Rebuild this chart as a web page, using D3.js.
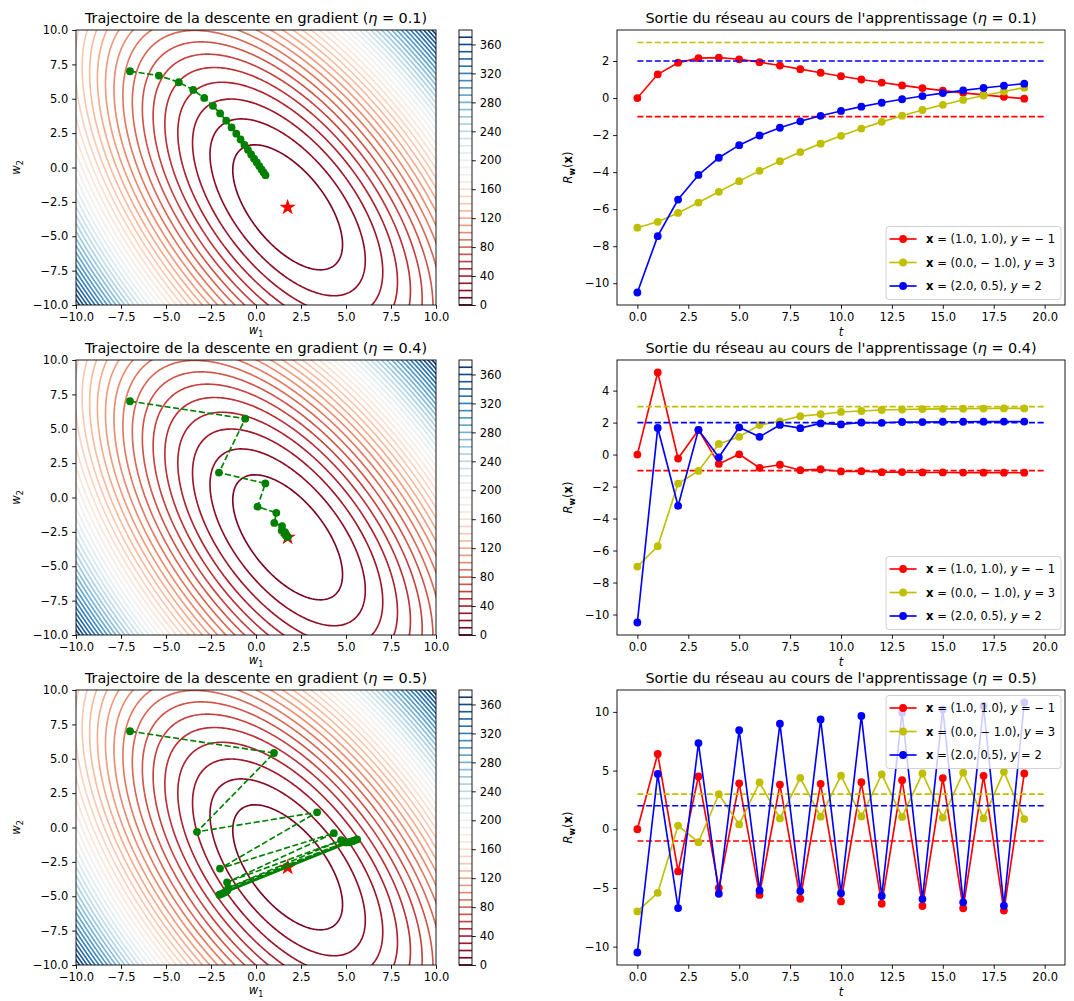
<!DOCTYPE html>
<html>
<head>
<meta charset="utf-8">
<script src="https://cdn.jsdelivr.net/npm/d3@7"></script>
<style>
  body { margin: 0; background: #fff; }
  svg text { font-family: "DejaVu Sans", sans-serif; fill: #000; }
</style>
</head>
<body>
<svg id="fig" width="1074" height="1001"></svg>
<script>
// ---- data ----
// training examples x, target y
const exInputs = [[1.0, 1.0], [0.0, -1.0], [2.0, 0.5]];
const exTargets = [-1, 3, 2];
const exColors = ['#ff0000', '#bfbf00', '#0000ff'];
const exLabels = [
  [{t: 'x', b: 1}, {t: ' = (1.0, 1.0), '}, {t: 'y', i: 1}, {t: ' = − 1'}],
  [{t: 'x', b: 1}, {t: ' = (0.0, − 1.0), '}, {t: 'y', i: 1}, {t: ' = 3'}],
  [{t: 'x', b: 1}, {t: ' = (2.0, 0.5), '}, {t: 'y', i: 1}, {t: ' = 2'}]
];

const etas = ['0.1', '0.4', '0.5'];
const wStar = [1.759, -2.897];
const steps = [0, 1, 2, 3, 4, 5, 6, 7, 8, 9, 10, 11, 12, 13, 14, 15, 16, 17, 18, 19];

// contour levels and colorbar ticks
const levels = [10, 20, 30, 40, 50, 60, 70, 80, 90, 100, 110, 120, 130, 140, 150, 160, 170, 180, 190,
  200, 210, 220, 230, 240, 250, 260, 270, 280, 290, 300, 310, 320, 330, 340, 350, 360, 370];
const cbTicks = [0, 40, 80, 120, 160, 200, 240, 280, 320, 360];
const wTicks = [-10, -7.5, -5, -2.5, 0, 2.5, 5, 7.5, 10];
const tTicks = [0, 2.5, 5, 7.5, 10, 12.5, 15, 17.5, 20];
const outTicks = [
  [-10, -8, -6, -4, -2, 0, 2],
  [-10, -8, -6, -4, -2, 0, 2, 4],
  [-10, -5, 0, 5, 10]
];

// weight trajectories (eta = 0.1, 0.4, 0.5)
const traj01W1 = [-7.0, -5.400, -4.291, -3.488, -2.877, -2.393, -1.994, -1.653, -1.357, -1.094, -0.857, -0.643, -0.448, -0.270, -0.107, 0.043, 0.180, 0.306, 0.423, 0.529];
const traj01W2 = [7.0, 6.683, 6.201, 5.643, 5.061, 4.486, 3.932, 3.408, 2.917, 2.461, 2.037, 1.646, 1.285, 0.952, 0.645, 0.363, 0.102, -0.137, -0.357, -0.560];
const traj04W1 = [-7.0, -0.600, -2.058, 0.519, 0.082, 1.129, 1.016, 1.446, 1.428, 1.606, 1.610, 1.685, 1.692, 1.723, 1.728, 1.742, 1.745, 1.751, 1.752, 1.755];
const traj04W2 = [7.0, 5.733, 1.813, 1.023, -0.668, -1.111, -1.846, -2.081, -2.403, -2.523, -2.666, -2.725, -2.789, -2.818, -2.846, -2.860, -2.873, -2.880, -2.886, -2.889];
const traj05W1 = [-7.0, 1.000, -3.278, 3.394, -2.000, 4.324, -1.608, 4.729, -1.536, 4.947, -1.583, 5.099, -1.676, 5.231, -1.787, 5.358, -1.908, 5.486, -2.035, 5.617];
const traj05W2 = [7.0, 5.417, -0.313, 1.107, -2.986, -0.413, -3.986, -0.925, -4.384, -1.072, -4.566, -1.086, -4.671, -1.051, -4.750, -0.996, -4.821, -0.933, -4.891, -0.866];

// network outputs for each example
const out01Red = [0.0, 1.283, 1.910, 2.155, 2.184, 2.093, 1.938, 1.755, 1.561, 1.367, 1.180, 1.003, 0.837, 0.682, 0.538, 0.405, 0.283, 0.170, 0.065, -0.031];
const out01Yellow = [-7.0, -6.683, -6.201, -5.643, -5.061, -4.486, -3.932, -3.408, -2.917, -2.461, -2.037, -1.646, -1.285, -0.952, -0.645, -0.363, -0.102, 0.137, 0.357, 0.560];
const out01Blue = [-10.5, -7.458, -5.481, -4.153, -3.224, -2.543, -2.021, -1.603, -1.255, -0.957, -0.696, -0.463, -0.254, -0.064, 0.109, 0.267, 0.412, 0.545, 0.666, 0.779];
const out04Red = [0.0, 5.133, -0.244, 1.542, -0.586, 0.018, -0.830, -0.635, -0.976, -0.917, -1.056, -1.040, -1.097, -1.094, -1.118, -1.118, -1.128, -1.129, -1.133, -1.134];
const out04Yellow = [-7.0, -5.733, -1.813, -1.023, 0.668, 1.111, 1.846, 2.081, 2.403, 2.523, 2.666, 2.725, 2.789, 2.818, 2.846, 2.860, 2.873, 2.880, 2.886, 2.889];
const out04Blue = [-10.5, 1.667, -3.209, 1.549, -0.171, 1.702, 1.109, 1.852, 1.653, 1.951, 1.887, 2.007, 1.989, 2.038, 2.033, 2.054, 2.053, 2.061, 2.062, 2.065];
const out05Red = [0.0, 6.417, -3.591, 4.501, -4.986, 3.911, -5.594, 3.804, -5.920, 3.875, -6.149, 4.013, -6.347, 4.180, -6.537, 4.362, -6.729, 4.552, -6.926, 4.751];
const out05Yellow = [-7.0, -5.417, 0.313, -1.107, 2.986, 0.413, 3.986, 0.925, 4.384, 1.072, 4.566, 1.086, 4.671, 1.051, 4.750, 0.996, 4.821, 0.933, 4.891, 0.866];
const out05Blue = [-10.5, 4.708, -6.712, 7.341, -5.494, 8.442, -5.208, 8.995, -5.264, 9.357, -5.449, 9.655, -5.687, 9.937, -5.949, 10.218, -6.226, 10.505, -6.515, 10.801];

const trajs = [[traj01W1, traj01W2], [traj04W1, traj04W2], [traj05W1, traj05W2]];
const outs = [[out01Red, out01Yellow, out01Blue], [out04Red, out04Yellow, out04Blue], [out05Red, out05Yellow, out05Blue]];
const legendPos = ['lower', 'lower', 'upper'];

// ---- layout ----
const svg = d3.select('#fig');
const rowTop = [30, 360, 690];
const axH = 275;
const LX = 76, LW = 360;
const CBX = 459, CBW = 13;
const RX = 617, RW = 448;
const FS = 11.5;   // tick / label size
const TS = 14.4;   // title size
const tick = 3.85;

const fmt1 = v => d3.format('.1f')(v).replace('-', '−');
const fmt0 = v => d3.format('d')(v).replace('-', '−');

function rich(sel, parts) {
  parts.forEach(p => {
    let ts = sel.append('tspan').text(p.t);
    if (p.b) ts.attr('font-weight', 'bold');
    if (p.i) ts.attr('font-style', 'italic');
    if (p.sub) ts.attr('font-size', FS * 0.7).attr('dy', 3);
    if (p.back) ts.attr('dy', -3);
  });
}

// loss surface on a grid a bit larger than the axes, so contour borders fall outside the clip
const g0 = -11, gStep = 0.1, gN = 221;
const values = new Array(gN * gN);
for (let j = 0; j < gN; j++) {
  for (let i = 0; i < gN; i++) {
    let w1 = g0 + i * gStep, w2 = g0 + j * gStep;
    let s = 0;
    exInputs.forEach((x, k) => { let r = w1 * x[0] + w2 * x[1] - exTargets[k]; s += r * r; });
    values[j * gN + i] = s / exInputs.length;
  }
}
const contourSet = d3.contours().size([gN, gN]).thresholds(levels)(values);
const levelColor = v => d3.interpolateRdBu(v / 380);

function axisStyle(g) {
  g.select('.domain').remove();
  g.selectAll('line').attr('stroke', '#000').attr('stroke-width', 0.9);
  g.selectAll('text').attr('font-size', FS).attr('fill', '#000');
}

function drawLeft(row) {
  let top = rowTop[row];
  let x = d3.scaleLinear().domain([-10, 10]).range([LX, LX + LW]);
  let y = d3.scaleLinear().domain([-10, 10]).range([top + axH, top]);

  let clipId = 'clip' + row;
  svg.append('clipPath').attr('id', clipId)
    .append('rect').attr('x', LX).attr('y', top).attr('width', LW).attr('height', axH);

  let proj = d3.geoTransform({
    point: function(px, py) {
      this.stream.point(x(g0 + (px - 0.5) * gStep), y(g0 + (py - 0.5) * gStep));
    }
  });
  let path = d3.geoPath(proj);

  let g = svg.append('g').attr('clip-path', `url(#${clipId})`);
  g.selectAll('path.lvl')
    .data(contourSet)
    .enter().append('path')
    .attr('class', 'lvl')
    .attr('d', path)
    .attr('fill', 'none')
    .attr('stroke', d => levelColor(d.value))
    .attr('stroke-width', 1.65);

  // minimum
  g.append('path')
    .attr('d', d3.symbol().type(d3.symbolStar).size(85)())
    .attr('transform', `translate(${x(wStar[0])},${y(wStar[1])})`)
    .attr('fill', '#ff0000');

  // trajectory
  let [tw1, tw2] = trajs[row];
  let pts = steps.map(i => [tw1[i], tw2[i]]);
  g.append('path')
    .attr('d', d3.line().x(d => x(d[0])).y(d => y(d[1]))(pts))
    .attr('fill', 'none')
    .attr('stroke', '#008000')
    .attr('stroke-width', 1.65)
    .attr('stroke-dasharray', '6.1,2.6');
  g.selectAll('circle.traj')
    .data(pts)
    .enter().append('circle')
    .attr('class', 'traj')
    .attr('cx', d => x(d[0]))
    .attr('cy', d => y(d[1]))
    .attr('r', 3.9)
    .attr('fill', '#008000');

  svg.append('rect').attr('x', LX).attr('y', top).attr('width', LW).attr('height', axH)
    .attr('fill', 'none').attr('stroke', '#000').attr('stroke-width', 0.9);

  svg.append('g').attr('transform', `translate(0,${top + axH})`)
    .call(d3.axisBottom(x).tickValues(wTicks).tickFormat(fmt1).tickSize(tick).tickPadding(tick).tickSizeOuter(0))
    .call(axisStyle);
  svg.append('g').attr('transform', `translate(${LX},0)`)
    .call(d3.axisLeft(y).tickValues(wTicks).tickFormat(fmt1).tickSize(tick).tickPadding(tick).tickSizeOuter(0))
    .call(axisStyle);

  // title and labels
  let title = svg.append('text').attr('x', LX + LW / 2).attr('y', top - 7)
    .attr('text-anchor', 'middle').attr('font-size', TS);
  rich(title, [{t: 'Trajectoire de la descente en gradient ('}, {t: 'η', i: 1}, {t: ' = ' + etas[row] + ')'}]);

  let xl = svg.append('text').attr('x', LX + LW / 2).attr('y', top + axH + 29)
    .attr('text-anchor', 'middle').attr('font-size', FS);
  rich(xl, [{t: 'w', i: 1}, {t: '1', sub: 1}]);

  let yl = svg.append('text').attr('transform', `translate(20,${top + axH / 2}) rotate(-90)`)
    .attr('text-anchor', 'middle').attr('font-size', FS);
  rich(yl, [{t: 'w', i: 1}, {t: '2', sub: 1}]);

  // colorbar
  let cb = d3.scaleLinear().domain([0, 380]).range([top + axH, top]);
  svg.append('rect').attr('x', CBX).attr('y', top).attr('width', CBW).attr('height', axH).attr('fill', '#fff');
  svg.append('g').selectAll('line')
    .data([0].concat(levels))
    .enter().append('line')
    .attr('x1', CBX).attr('x2', CBX + CBW)
    .attr('y1', d => cb(d)).attr('y2', d => cb(d))
    .attr('stroke', d => levelColor(d))
    .attr('stroke-width', 1.65);
  svg.append('rect').attr('x', CBX).attr('y', top).attr('width', CBW).attr('height', axH)
    .attr('fill', 'none').attr('stroke', '#000').attr('stroke-width', 0.9);
  svg.append('g').attr('transform', `translate(${CBX + CBW},0)`)
    .call(d3.axisRight(cb).tickValues(cbTicks).tickFormat(d3.format('d')).tickSize(tick).tickPadding(tick).tickSizeOuter(0))
    .call(axisStyle);
}

function drawRight(row) {
  let top = rowTop[row];
  let series = outs[row];
  let all = series.flat().concat(exTargets);
  let [lo, hi] = d3.extent(all);
  let pad = (hi - lo) * 0.05;
  let x = d3.scaleLinear().domain([-1, 21]).range([RX, RX + RW]);
  let y = d3.scaleLinear().domain([lo - pad, hi + pad]).range([top + axH, top]);

  let g = svg.append('g');
  series.forEach((vals, k) => {
    let pts = steps.map(i => [steps[i], vals[i]]);
    g.append('path')
      .attr('d', d3.line().x(d => x(d[0])).y(d => y(d[1]))(pts))
      .attr('fill', 'none')
      .attr('stroke', exColors[k])
      .attr('stroke-width', 1.65);
    g.append('g').selectAll('circle')
      .data(pts)
      .enter().append('circle')
      .attr('cx', d => x(d[0]))
      .attr('cy', d => y(d[1]))
      .attr('r', 3.9)
      .attr('fill', exColors[k]);
    g.append('line')
      .attr('x1', x(0)).attr('x2', x(20))
      .attr('y1', y(exTargets[k])).attr('y2', y(exTargets[k]))
      .attr('stroke', exColors[k])
      .attr('stroke-width', 1.65)
      .attr('stroke-dasharray', '6.1,2.6');
  });

  svg.append('rect').attr('x', RX).attr('y', top).attr('width', RW).attr('height', axH)
    .attr('fill', 'none').attr('stroke', '#000').attr('stroke-width', 0.9);

  svg.append('g').attr('transform', `translate(0,${top + axH})`)
    .call(d3.axisBottom(x).tickValues(tTicks).tickFormat(fmt1).tickSize(tick).tickPadding(tick).tickSizeOuter(0))
    .call(axisStyle);
  svg.append('g').attr('transform', `translate(${RX},0)`)
    .call(d3.axisLeft(y).tickValues(outTicks[row]).tickFormat(fmt0).tickSize(tick).tickPadding(tick).tickSizeOuter(0))
    .call(axisStyle);

  let title = svg.append('text').attr('x', RX + RW / 2).attr('y', top - 7)
    .attr('text-anchor', 'middle').attr('font-size', TS);
  rich(title, [{t: "Sortie du réseau au cours de l'apprentissage ("}, {t: 'η', i: 1}, {t: ' = ' + etas[row] + ')'}]);

  svg.append('text').attr('x', RX + RW / 2).attr('y', top + axH + 31)
    .attr('text-anchor', 'middle').attr('font-size', FS).attr('font-style', 'italic').text('t');

  let yl = svg.append('text').attr('transform', `translate(572,${top + axH / 2}) rotate(-90)`)
    .attr('text-anchor', 'middle').attr('font-size', FS);
  rich(yl, [{t: 'R', i: 1}, {t: 'w', b: 1, sub: 1}, {t: '(', back: 1}, {t: 'x', b: 1}, {t: ')'}]);

  // legend
  let lg = svg.append('g');
  let box = lg.append('rect').attr('rx', 3).attr('fill', '#fff').attr('fill-opacity', 0.8)
    .attr('stroke', '#cccccc').attr('stroke-width', 0.9);
  let texts = [];
  exLabels.forEach((parts, k) => {
    let cy = 12.5 + k * 23.5;
    lg.append('line').attr('x1', 3.5).attr('x2', 30.5).attr('y1', cy).attr('y2', cy)
      .attr('stroke', exColors[k]).attr('stroke-width', 1.65);
    lg.append('circle').attr('cx', 17).attr('cy', cy).attr('r', 3.9).attr('fill', exColors[k]);
    let t = lg.append('text').attr('x', 40).attr('y', cy + 4).attr('font-size', FS);
    rich(t, parts);
    texts.push(t);
  });
  let maxW = d3.max(texts, t => t.node().getComputedTextLength());
  let bw = 40 + maxW + 6, bh = 73;
  box.attr('width', bw).attr('height', bh);
  let bx = RX + RW - 4 - bw;
  let by = legendPos[row] === 'lower' ? top + axH - 5.5 - bh : top + 5.5;
  lg.attr('transform', `translate(${bx},${by})`);
}

[0, 1, 2].forEach(r => { drawLeft(r); drawRight(r); });
</script>
</body>
</html>
